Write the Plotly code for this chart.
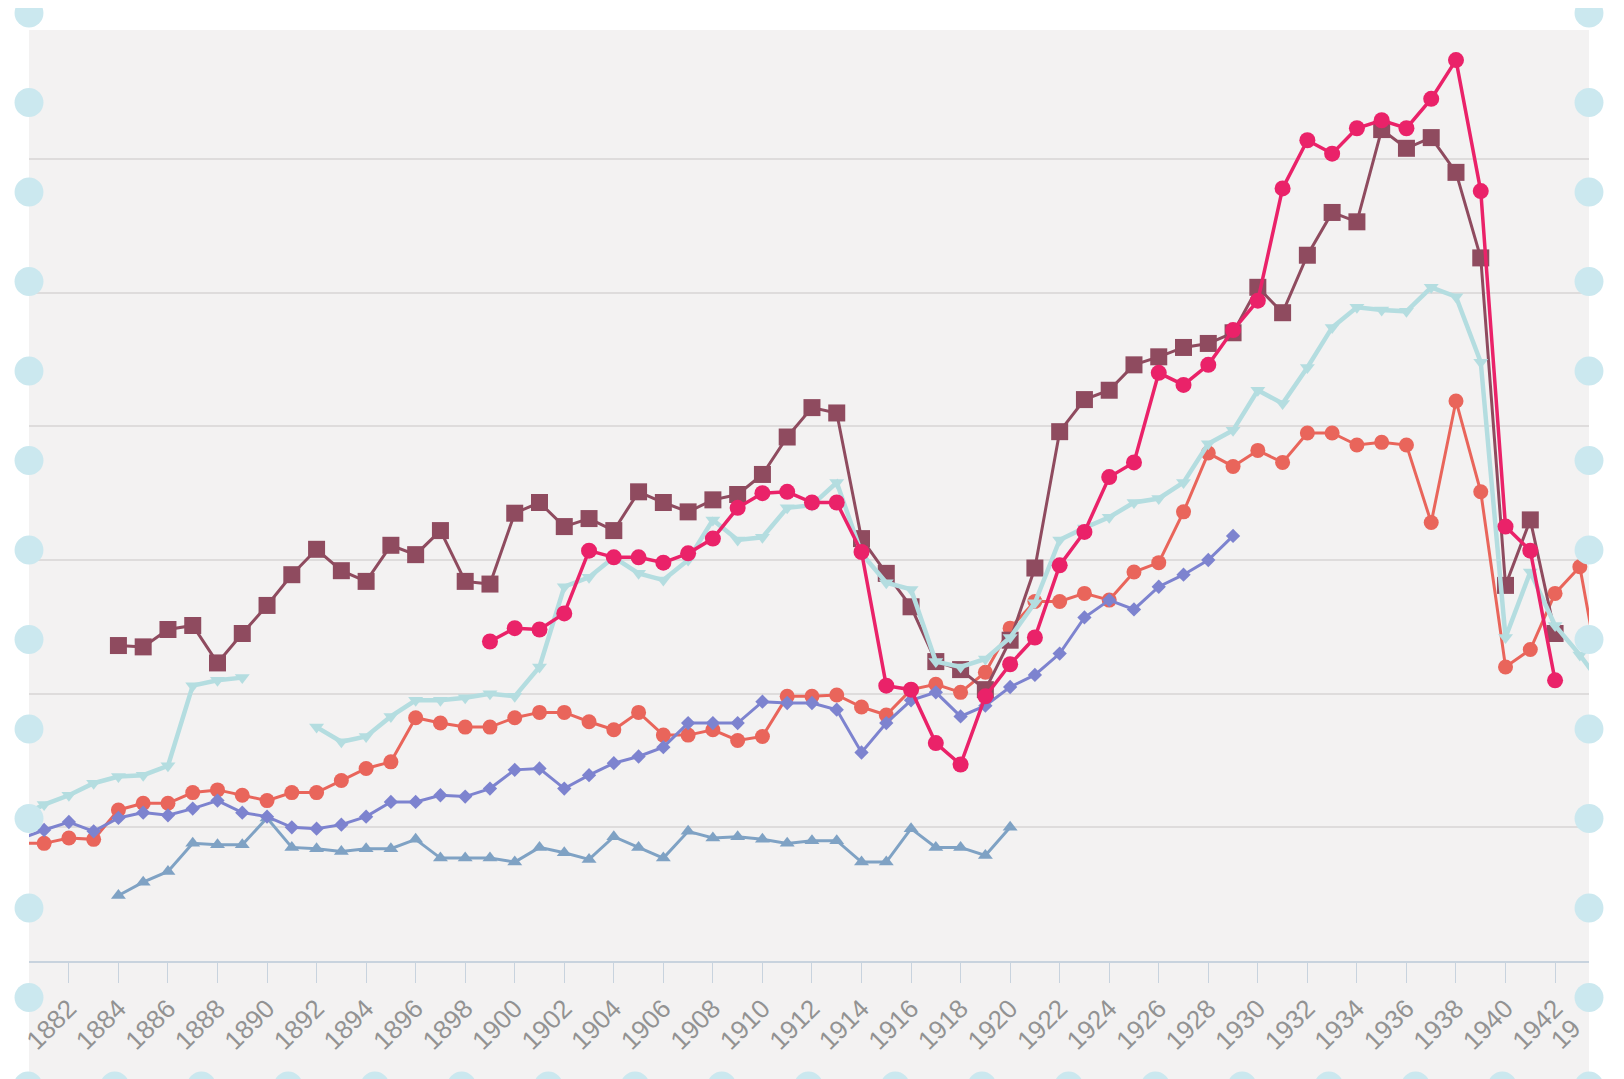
import plotly.graph_objects as go

# ---------------- data ----------------
years_maroon = list(range(1884, 1943))
maroon = [23.6, 23.5, 24.8, 25.1, 22.3, 24.5, 26.6, 28.9, 30.8, 29.2,
          28.4, 31.1, 30.4, 32.2, 28.4, 28.2, 33.5, 34.3, 32.5, 33.1,
          32.2, 35.1, 34.3, 33.6, 34.5, 34.9, 36.4, 39.2, 41.4, 41.0,
          31.6, 29.0, 26.5, 22.4, 21.8, 20.3, 24.0, 29.4, 39.6, 42.0,
          42.7, 44.6, 45.2, 45.9, 46.2, 47.0, 50.4, 48.5, 52.8, 56.0,
          55.3, 62.2, 60.8, 61.6, 59.0, 52.6, 28.1, 33.0, 24.5]

years_pink = list(range(1899, 1943))
pink = [23.9, 24.9, 24.8, 26.0, 30.7, 30.2, 30.2, 29.8, 30.5, 31.6,
        33.9, 35.0, 35.1, 34.3, 34.3, 30.6, 20.6, 20.3, 16.3, 14.7,
        19.8, 22.2, 24.2, 29.6, 32.1, 36.2, 37.3, 44.0, 43.1, 44.6,
        47.2, 49.4, 57.8, 61.4, 60.4, 62.3, 62.9, 62.3, 64.5, 67.4,
        57.6, 32.5, 30.7, 21.0]

years_coral = list(range(1880, 1945))
coral = [8.8, 8.8, 9.2, 9.1, 11.3, 11.8, 11.8, 12.6, 12.8, 12.4,
         12.0, 12.6, 12.6, 13.5, 14.4, 14.9, 18.2, 17.8, 17.5, 17.5,
         18.2, 18.6, 18.6, 17.9, 17.3, 18.6, 16.9, 16.9, 17.3, 16.5,
         16.8, 19.8, 19.8, 19.9, 19.0, 18.4, 20.3, 20.7, 20.1, 21.6,
         24.9, 26.9, 26.9, 27.5, 27.0, 29.1, 29.8, 33.6, 38.0, 37.0,
         38.2, 37.3, 39.5, 39.5, 38.6, 38.8, 38.6, 32.8, 41.9, 35.1,
         22.0, 23.3, 27.5, 29.5, 19.3]

years_peri = list(range(1880, 1930))
peri = [9.1, 9.8, 10.4, 9.7, 10.7, 11.1, 10.9, 11.4, 12.0, 11.1,
        10.8, 10.0, 9.9, 10.2, 10.8, 11.9, 11.9, 12.4, 12.3, 12.9,
        14.3, 14.4, 12.9, 13.9, 14.8, 15.3, 16.0, 17.8, 17.8, 17.8,
        19.4, 19.3, 19.3, 18.8, 15.6, 17.8, 19.5, 20.1, 18.3, 19.1,
        20.5, 21.4, 23.0, 25.7, 27.0, 26.3, 28.0, 28.9, 30.0, 31.8]

years_steel = list(range(1884, 1921))
steel = [4.9, 5.9, 6.7, 8.8, 8.7, 8.7, 10.7, 8.5, 8.4, 8.2,
         8.4, 8.4, 9.1, 7.7, 7.7, 7.7, 7.4, 8.5, 8.1, 7.6,
         9.3, 8.5, 7.7, 9.7, 9.2, 9.3, 9.1, 8.8, 9.0, 9.0,
         7.4, 7.4, 9.9, 8.5, 8.5, 7.9, 10.0]

years_teal = list(range(1880, 1945))
teal = [10.8, 11.7, 12.4, 13.3, 13.8, 13.9, 14.6, 20.6, 21.0, 21.2,
        None, None, 17.5, 16.4, 16.8, 18.3, 19.5, 19.5, 19.7, 20.0,
        19.8, 22.0, 28.0, 28.7, 30.2, 29.0, 28.5, 30.0, 33.0, 31.5,
        31.7, 33.9, 34.1, 35.8, 30.5, 28.3, 27.8, 22.4, 22.0, 22.6,
        24.2, 26.8, 31.5, 32.4, 33.2, 34.3, 34.6, 35.8, 38.7, 39.7,
        42.7, 41.7, 44.4, 47.4, 48.9, 48.7, 48.6, 50.4, 49.7, 44.8,
        24.2, 29.1, 25.1, 22.9, 20.4]

tick_years = list(range(1882, 1943, 2))

# ---------------- figure ----------------
# the page body adds an 8px offset, so the figure is drawn 8px smaller
OFF = 8
W, H = 1624 - OFF, 1079 - OFF
# plot area in page pixels: x 24..1589, y 30..961
L = 24 - OFF
T = 30 - OFF
R = W - (1589 - OFF)
B = H - (961 - OFF)
PW, PH = W - L - R, H - T - B

fig = go.Figure()

def add(x, y, color, symbol, msize, lw):
    fig.add_trace(go.Scatter(
        x=x, y=y, mode="lines+markers", connectgaps=False,
        line=dict(color=color, width=lw),
        marker=dict(symbol=symbol, size=msize, color=color, line=dict(width=0)),
        hoverinfo="x+y", showlegend=False, cliponaxis=True))

add(years_steel, steel, "#7fa2c4", "triangle-up", 13, 3)
add(years_coral, coral, "#e9655b", "circle", 15, 3)
add(years_peri, peri, "#7d83cf", "diamond", 11, 3)
add(years_maroon, maroon, "#8f4b5f", "square", 17, 3)
add(years_teal, teal, "#b4dde0", "triangle-down", 13, 4.5)
add(years_pink, pink, "#ea2269", "circle", 16, 3.5)

shapes = []
# textured panel continuing below the axis
shapes.append(dict(type="rect", xref="paper", yref="paper",
                   x0=0, x1=1, y0=-(B + 10) / PH, y1=0,
                   fillcolor="#f3f2f2", line=dict(width=0), layer="below"))

def px_to_paper(px, py):
    # page pixel -> paper fraction
    fx = px - OFF
    fy = py - OFF
    return (fx - L) / PW, (T + PH - fy) / PH

rad = 14.5
def dot(px, py):
    cx, cy = px_to_paper(px, py)
    rx, ry = rad / PW, rad / PH
    shapes.append(dict(type="circle", xref="paper", yref="paper",
                       x0=cx - rx, x1=cx + rx, y0=cy - ry, y1=cy + ry,
                       fillcolor="#cbe8ef", line=dict(width=0), layer="above"))

for k in range(12):
    py = 13 + 89.5 * k
    dot(24, py)
    dot(1589, py)
for k in range(19):
    dot(23 + 87 * k, 1086)

ax_, ay_ = px_to_paper(1589, 1010)

fig.update_layout(
    width=W, height=H,
    margin=dict(l=L, r=R, t=T, b=B, pad=0),
    paper_bgcolor="#ffffff",
    plot_bgcolor="#f3f2f2",
    shapes=shapes,
    font=dict(family="Liberation Sans, Arial, sans-serif"),
    xaxis=dict(
        range=[1880.39, 1943.37], tickmode="array", tickvals=tick_years,
        ticktext=[str(y) for y in tick_years],
        tickangle=-45, ticks="outside", ticklen=20, tickwidth=1,
        tickcolor="#c8d3de", showline=True, linecolor="#c8d3de", linewidth=2,
        showgrid=False, zeroline=False,
        tickfont=dict(size=26, color="#929292")),
    yaxis=dict(
        range=[0, 69.65], tickvals=[10, 20, 30, 40, 50, 60],
        showticklabels=False, showgrid=True, gridcolor="#dedcdc", gridwidth=1.5,
        zeroline=False, showline=False),
    annotations=[dict(text="19", xref="paper", yref="paper",
                      x=ax_, y=ay_, xanchor="right", yanchor="top",
                      showarrow=False, textangle=-45,
                      font=dict(size=26, color="#929292"))],
)

fig.write_html("out.html")
